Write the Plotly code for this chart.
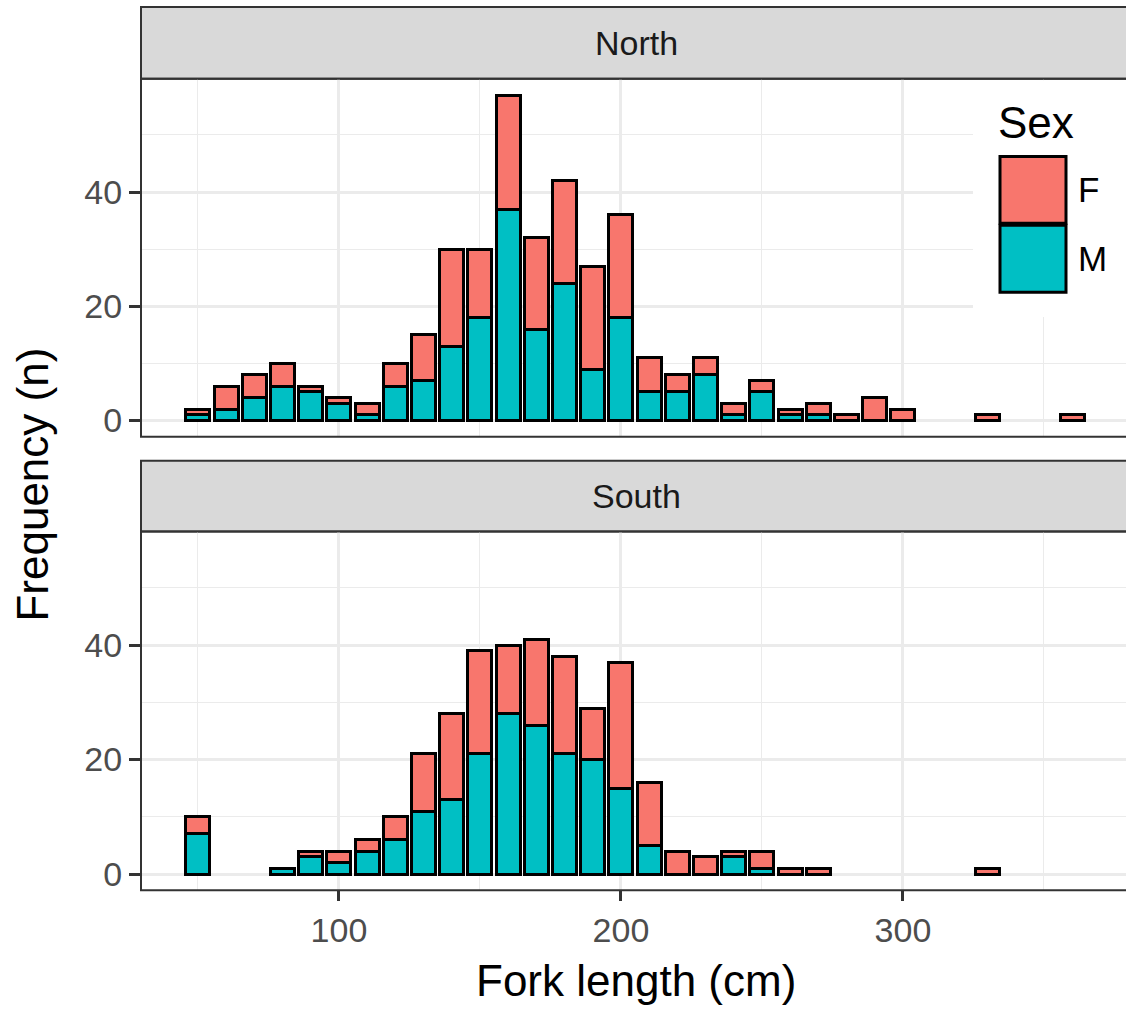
import plotly.graph_objects as go

W, H = 1126, 1012

# ---------------- data ----------------
bins = list(range(50, 370, 10))  # bin centres (cm)
#            50 60 70 80 90 100 110 120 130 140 150 160 170 180 190 200 210 220 230 240 250 260 270 280 290 300 310 320 330 340 350 360
north_f = [1, 4, 4, 4, 1, 1, 2, 4, 8, 17, 12, 20, 16, 18, 18, 18, 6, 3, 3, 2, 2, 1, 2, 1, 4, 2, 0, 0, 1, 0, 0, 1]
north_m = [1, 2, 4, 6, 5, 3, 1, 6, 7, 13, 18, 37, 16, 24, 9, 18, 5, 5, 8, 1, 5, 1, 1, 0, 0, 0, 0, 0, 0, 0, 0, 0]
south_f = [3, 0, 0, 0, 1, 2, 2, 4, 10, 15, 18, 12, 15, 17, 9, 22, 11, 4, 3, 1, 3, 1, 1, 0, 0, 0, 0, 0, 1, 0, 0, 0]
south_m = [7, 0, 0, 1, 3, 2, 4, 6, 11, 13, 21, 28, 26, 21, 20, 15, 5, 0, 0, 3, 1, 0, 0, 0, 0, 0, 0, 0, 0, 0, 0, 0]

sex_labels = ["F", "M"]
facet_labels = ["North", "South"]
x_ticks = [100, 200, 300]
x_minor = [50, 150, 250, 350]
y_ticks = [0, 20, 40]
y_minor = [10, 30, 50]

COL_F = "#F8766D"
COL_M = "#00BFC4"
FONT = "Liberation Sans, Arial, sans-serif"
GRID = "#EBEBEB"
DARK = "#333333"


def nz(v):
    return [None if a == 0 else a for a in v]


def px(x):
    return x / W


def py(y):
    return 1 - y / H


fig = go.Figure()

panels = [("x", "y", north_f, north_m), ("x2", "y2", south_f, south_m)]
for xa, ya, f, m in panels:
    fig.add_trace(go.Bar(x=bins, y=nz(m), name="M", xaxis=xa, yaxis=ya, width=8.5,
                         marker=dict(color=COL_M, line=dict(color="black", width=3)),
                         showlegend=False))
    fig.add_trace(go.Bar(x=bins, y=nz(f), name="F", xaxis=xa, yaxis=ya, width=8.5,
                         marker=dict(color=COL_F, line=dict(color="black", width=3)),
                         showlegend=False))

xdom = [px(141), 1.0]
xrange = [29.8, 379.1]
yrange = [-2.85, 59.85]

common_x = dict(domain=xdom, range=xrange, tickvals=x_ticks, showgrid=True, gridcolor=GRID,
                gridwidth=2.5, zeroline=False, showline=False,
                minor=dict(tickvals=x_minor, showgrid=True, gridcolor=GRID, gridwidth=1.3, ticks=""))
common_y = dict(range=yrange, tickvals=y_ticks, showgrid=True, gridcolor=GRID, gridwidth=2.5,
                zeroline=False, showline=False,
                ticks="outside", ticklen=11, tickwidth=2.5, tickcolor=DARK,
                tickfont=dict(family=FONT, size=34, color="#4D4D4D"),
                minor=dict(tickvals=y_minor, showgrid=True, gridcolor=GRID, gridwidth=1.3, ticks=""))

fig.update_layout(
    width=W, height=H,
    margin=dict(l=0, r=0, t=0, b=0),
    paper_bgcolor="white", plot_bgcolor="white",
    barmode="stack",
    showlegend=False,
    font=dict(family=FONT),
    xaxis=dict(common_x, anchor="y", showticklabels=False, ticks=""),
    yaxis=dict(common_y, anchor="x", domain=[py(438), py(79)]),
    xaxis2=dict(common_x, anchor="y2", ticks="outside", ticklen=10, tickwidth=2.5,
                tickcolor=DARK, tickfont=dict(family=FONT, size=34, color="#4D4D4D")),
    yaxis2=dict(common_y, anchor="x2", domain=[py(893), py(533)]),
)

shapes = []
annotations = []
# facet strips and panel borders (panels run past the right edge of the image)
strips = [(7, 79), (462, 533)]
panel_px = [(79, 438), (533, 893)]
for (t, b), (pt, pb), lab in zip(strips, panel_px, facet_labels):
    shapes.append(dict(type="rect", xref="paper", yref="paper", x0=px(141), x1=1.02,
                       y0=py(b), y1=py(t), fillcolor="#D9D9D9",
                       line=dict(color=DARK, width=2), layer="below"))
    shapes.append(dict(type="rect", xref="paper", yref="paper", x0=px(141), x1=1.02,
                       y0=py(pb), y1=py(pt), fillcolor="rgba(0,0,0,0)",
                       line=dict(color=DARK, width=2), layer="above"))
    annotations.append(dict(text=lab, xref="paper", yref="paper", x=px(636), y=py((t + b) / 2),
                            xanchor="center", yanchor="middle", showarrow=False,
                            font=dict(family=FONT, size=34, color="#1A1A1A")))

# legend (drawn inside the top panel, like the original)
shapes.append(dict(type="rect", xref="paper", yref="paper", x0=px(973), x1=1.02,
                   y0=py(318), y1=py(80.5), fillcolor="white", line=dict(width=0), layer="above"))
keys = [(157, 224, COL_F), (226, 293, COL_M)]
for t, b, c in keys:
    shapes.append(dict(type="rect", xref="paper", yref="paper", x0=px(1000), x1=px(1066),
                       y0=py(b), y1=py(t), fillcolor=c, line=dict(color="black", width=3),
                       layer="above"))
annotations.append(dict(text="Sex", xref="paper", yref="paper", x=px(996), y=py(123),
                        xanchor="left", yanchor="middle", showarrow=False,
                        font=dict(family=FONT, size=44, color="black")))
for (t, b, c), lab in zip(keys, sex_labels):
    annotations.append(dict(text=lab, xref="paper", yref="paper", x=px(1076), y=py((t + b) / 2),
                            xanchor="left", yanchor="middle", showarrow=False,
                            font=dict(family=FONT, size=35, color="black")))

# axis titles
annotations.append(dict(text="Frequency (n)", xref="paper", yref="paper", x=px(33), y=py(486),
                        xanchor="center", yanchor="middle", textangle=-90, showarrow=False,
                        font=dict(family=FONT, size=44, color="black")))
annotations.append(dict(text="Fork length (cm)", xref="paper", yref="paper", x=px(636), y=py(983),
                        xanchor="center", yanchor="middle", showarrow=False,
                        font=dict(family=FONT, size=44, color="black")))

fig.update_layout(shapes=shapes, annotations=annotations)

fig.write_html("out.html")
